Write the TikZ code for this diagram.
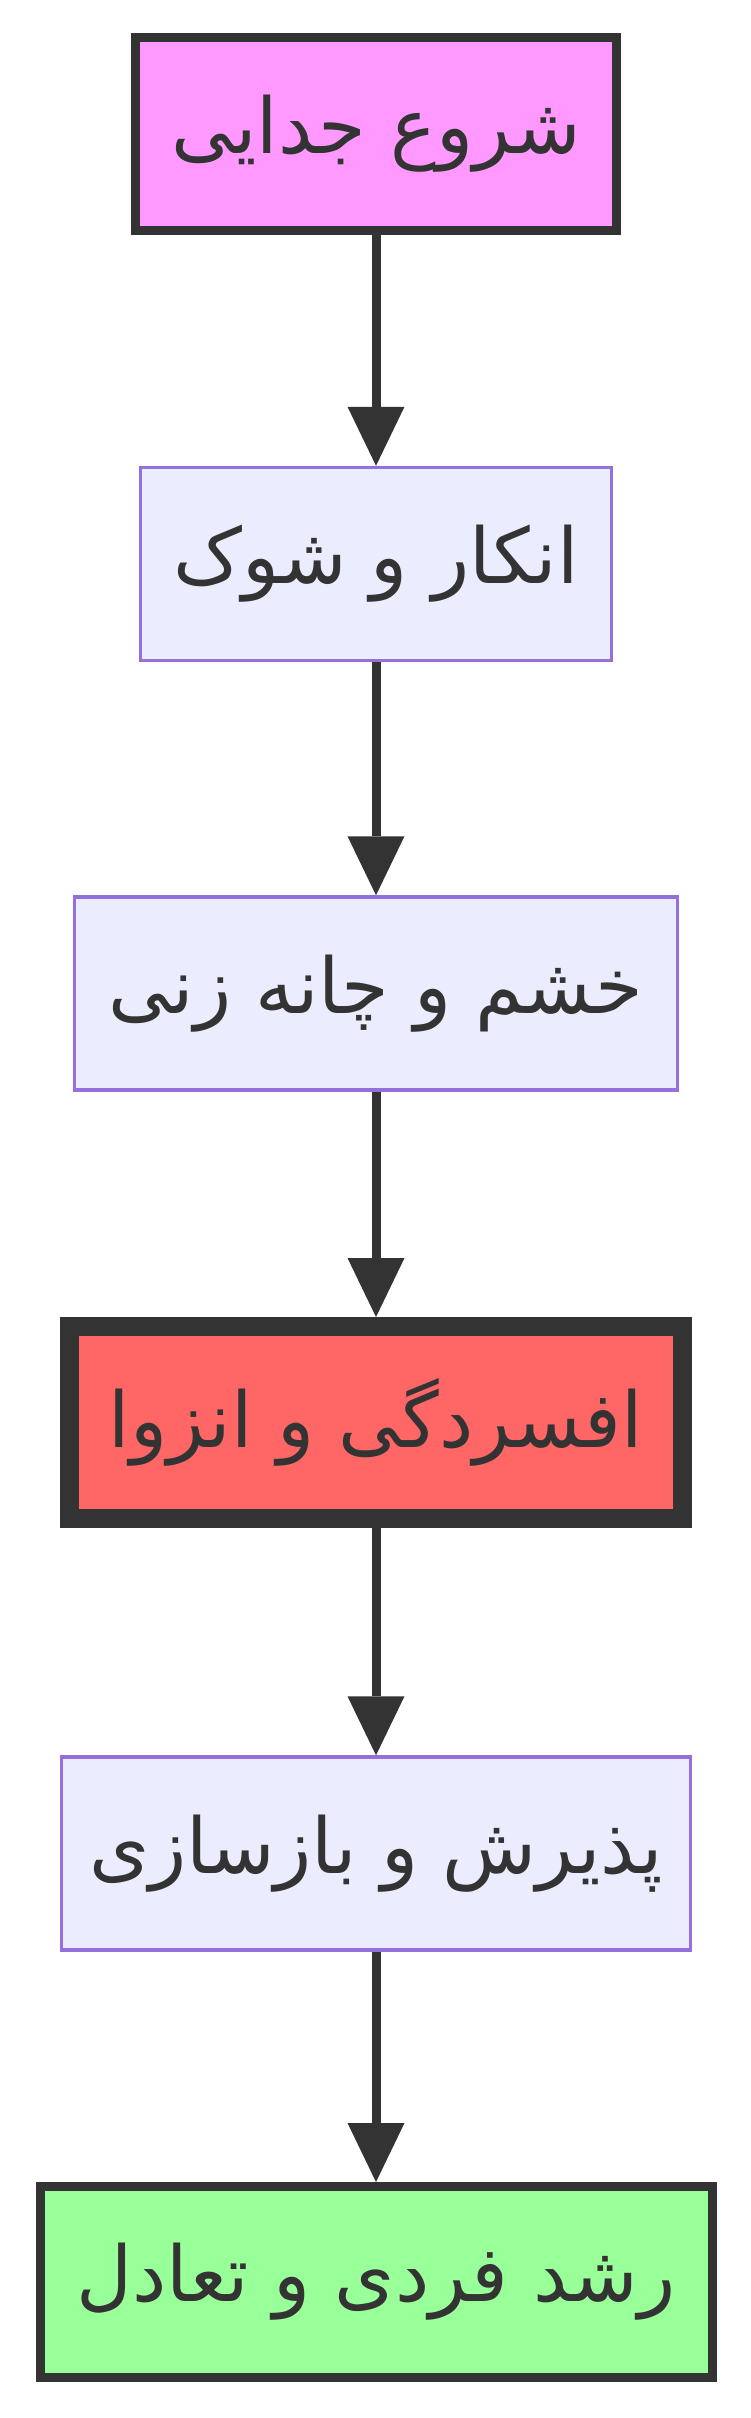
\documentclass[tikz,border=0pt]{standalone}
\usepackage{fontspec}
\usepackage{tikz}
\usetikzlibrary{positioning,arrows.meta}
\TeXXeTstate=1
\newfontfamily\farsi[Script=Arabic]{DejaVu Sans}
\newcommand*{\fa}[1]{\farsi\beginR #1\endR}
\definecolor{ink}{HTML}{333333}
\definecolor{lilac}{HTML}{9370DB}
\definecolor{lavender}{HTML}{ECECFF}
\definecolor{pinkfill}{HTML}{FF99FF}
\definecolor{redfill}{HTML}{FF6666}
\definecolor{greenfill}{HTML}{99FF99}

\begin{document}
\begin{tikzpicture}[x=1pt,y=-1pt,
  box/.style={draw=lilac,fill=lavender,line width=3.5pt,inner sep=0pt,
    minimum height=193pt,text=ink,font=\fontsize{77}{90}\selectfont},
  flow/.style={draw=ink,line width=9pt,
    -{Triangle[length=59pt,width=57pt,line width=0pt]}}]
\useasboundingbox (0,0) rectangle (750,2418);
% The stages, top to bottom
\node[box,draw=ink,fill=pinkfill,line width=9pt,minimum width=481pt] (start) at (376,134) {\fa{شروع جدایی}};
\node[box,minimum width=471pt] (denial) at (376,564) {\fa{انکار و شوک}};
\node[box,minimum width=603pt] (anger) at (376,993.5) {\fa{خشم و چانه زنی}};
\node[box,draw=ink,fill=redfill,line width=19pt,minimum width=613pt,minimum height=192pt] (grief) at (376,1422.5) {\fa{افسردگی و انزوا}};
\node[box,minimum width=629pt] (accept) at (376,1853.5) {\fa{پذیرش و بازسازی}};
\node[box,draw=ink,fill=greenfill,line width=9pt,minimum width=672pt,minimum height=191pt] (growth) at (376,2282) {\fa{رشد فردی و تعادل}};
% Arrows between the stages
\draw[flow] (start.south) -- (denial.north);
\draw[flow] (denial.south) -- (anger.north);
\draw[flow] (anger.south) -- (grief.north);
\draw[flow] (grief.south) -- (accept.north);
\draw[flow] (accept.south) -- (growth.north);
\end{tikzpicture}
\end{document}
